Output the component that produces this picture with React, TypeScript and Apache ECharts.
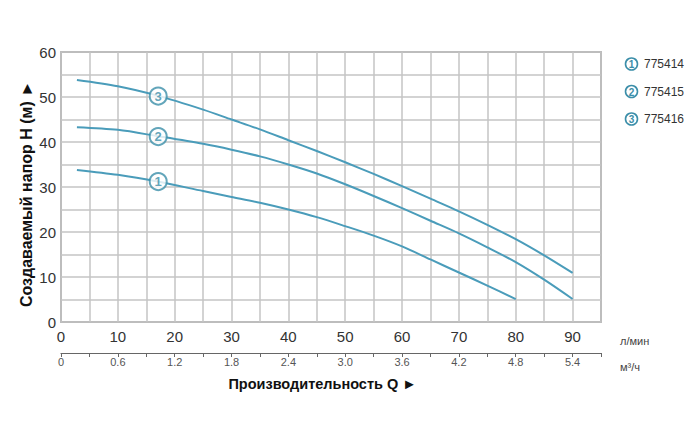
import React, { useEffect, useRef } from "react";
import * as echarts from "echarts";

// Flow (l/min) and head (m) for each pump model
const models = ["775414", "775415", "775416"];
const markerNumbers = ["1", "2", "3"];

const q1 = [2.8, 10, 17, 25, 30, 35, 40, 45, 50, 55, 60, 65, 70, 75, 80];
const h1 = [33.8, 32.7, 31.2, 29.1, 27.8, 26.5, 25.0, 23.3, 21.3, 19.2, 16.8, 13.9, 11.0, 8.1, 5.1];

const q2 = [2.8, 10, 17, 25, 30, 35, 40, 45, 50, 55, 60, 65, 70, 75, 80, 85, 90];
const h2 = [43.3, 42.7, 41.3, 39.6, 38.3, 36.8, 35.0, 33.0, 30.6, 28.0, 25.3, 22.5, 19.7, 16.6, 13.3, 9.4, 5.1];

const q3 = [2.8, 10, 17, 25, 30, 35, 40, 45, 50, 55, 60, 65, 70, 75, 80, 85, 90];
const h3 = [53.8, 52.4, 50.3, 47.2, 45.0, 42.8, 40.4, 38.0, 35.5, 32.9, 30.2, 27.4, 24.6, 21.6, 18.4, 14.8, 10.9];

// Numbered markers placed on the curves
const markerQ = 17.1;
const markerH = [31.2, 41.2, 50.2];

// Secondary axis tick labels (m³/h) at 0,10,...,90 l/min
const flowM3Labels = ["0", "0.6", "1.2", "1.8", "2.4", "3.0", "3.6", "4.2", "4.8", "5.4"];

const LINE = "#4a9cba";
const MARK = "#3b8ea9";
const FONT = 'Arial, "Liberation Sans", sans-serif';

export default function App() {
  const ref = useRef<HTMLDivElement>(null);

  useEffect(() => {
    if (!ref.current) return;
    document.body.style.margin = "0";
    const chart = echarts.init(ref.current, null, { renderer: "svg" });

    const curves = [
      [q1, h1],
      [q2, h2],
      [q3, h3],
    ];

    const lineSeries = curves.map(([q, h], i) => ({
      type: "line",
      name: models[i],
      data: q.map((x, j) => [x, h[j]]),
      smooth: 0.3,
      showSymbol: false,
      lineStyle: { color: LINE, width: 2 },
      z: 3,
    }));

    const markerSeries = {
      type: "scatter",
      data: markerH.map((h, i) => ({ value: [markerQ, h], label: { formatter: markerNumbers[i] } })),
      symbol: "circle",
      symbolSize: 17,
      itemStyle: { color: "#ffffff", borderColor: MARK, borderWidth: 2 },
      label: {
        show: true,
        position: "inside",
        color: MARK,
        fontSize: 13,
        fontWeight: "bold",
        fontFamily: FONT,
      },
      z: 5,
    };

    const legendGraphics: any[] = [];
    models.forEach((m, i) => {
      const y = 64 + i * 27.5;
      legendGraphics.push({
        type: "circle",
        shape: { cx: 631.5, cy: y, r: 6 },
        style: { fill: "#ffffff", stroke: MARK, lineWidth: 1.6 },
      });
      legendGraphics.push({
        type: "text",
        x: 631.5,
        y: y + 0.5,
        style: {
          text: markerNumbers[i],
          fill: MARK,
          font: `bold 10px ${FONT}`,
          align: "center",
          verticalAlign: "middle",
        },
      });
      legendGraphics.push({
        type: "text",
        x: 644,
        y: y,
        style: {
          text: m,
          fill: "#333333",
          font: `12px ${FONT}`,
          align: "left",
          verticalAlign: "middle",
        },
      });
    });

    chart.setOption({
      animation: false,
      backgroundColor: "#ffffff",
      grid: {
        left: 61,
        right: 99,
        top: 52,
        bottom: 120,
        show: true,
        borderColor: "#8a8a8a",
        borderWidth: 1.5,
        backgroundColor: "transparent",
      },
      xAxis: [
        {
          type: "value",
          min: 0,
          max: 95,
          interval: 5,
          position: "bottom",
          axisLine: { show: false },
          axisTick: { show: false },
          axisLabel: {
            interval: 1,
            margin: 7,
            color: "#333333",
            fontSize: 15,
            fontFamily: FONT,
            formatter: (v: number) => (v % 10 === 0 && v <= 90 ? String(v) : ""),
          },
          splitLine: { show: true, lineStyle: { color: "#c4c4c4", width: 1.5 } },
        },
        {
          type: "value",
          min: 0,
          max: 95,
          interval: 5,
          position: "bottom",
          offset: 31,
          axisLine: { show: true, lineStyle: { color: "#666666", width: 1.2 } },
          axisTick: { show: true, interval: 1, length: 4, lineStyle: { color: "#666666" } },
          axisLabel: {
            interval: 1,
            margin: 3,
            color: "#555555",
            fontSize: 11,
            fontFamily: FONT,
            formatter: (v: number) => (v % 10 === 0 && v <= 90 ? flowM3Labels[v / 10] : ""),
          },
          splitLine: { show: false },
        },
      ],
      yAxis: {
        type: "value",
        min: 0,
        max: 60,
        interval: 5,
        axisLine: { show: false },
        axisTick: { show: false },
        axisLabel: {
          interval: 1,
          margin: 5,
          color: "#333333",
          fontSize: 15,
          fontFamily: FONT,
          formatter: (v: number) => (v % 10 === 0 ? String(v) : ""),
        },
        splitLine: { show: true, lineStyle: { color: "#c4c4c4", width: 1.5 } },
      },
      graphic: [
        ...legendGraphics,
        {
          type: "text",
          x: 26,
          y: 194,
          rotation: Math.PI / 2,
          style: {
            text: "Создаваемый напор H (м) ►",
            fill: "#111111",
            font: `bold 16px ${FONT}`,
            align: "center",
            verticalAlign: "middle",
          },
        },
        {
          type: "text",
          x: 322.5,
          y: 384,
          style: {
            text: "Производительность Q ►",
            fill: "#111111",
            font: `bold 14.5px ${FONT}`,
            align: "center",
            verticalAlign: "middle",
          },
        },
        {
          type: "text",
          x: 620,
          y: 341,
          style: { text: "л/мин", fill: "#444444", font: `11px ${FONT}`, verticalAlign: "middle" },
        },
        {
          type: "text",
          x: 620,
          y: 367,
          style: { text: "м³/ч", fill: "#444444", font: `11px ${FONT}`, verticalAlign: "middle" },
        },
      ],
      series: [...lineSeries, markerSeries],
    });

    return () => chart.dispose();
  }, []);

  return <div ref={ref} style={{ width: 700, height: 442 }} />;
}
